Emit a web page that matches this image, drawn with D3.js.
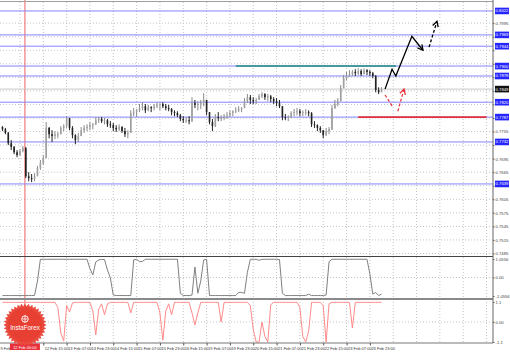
<!DOCTYPE html>
<html>
<head>
<meta charset="utf-8">
<script src="https://cdn.jsdelivr.net/npm/d3@7"></script>
<style>
body { margin: 0; background: #fff; }
svg { display: block; }
</style>
</head>
<body>
<div id="chart"></div>
<script>
// hourly-ish bars (price)
const highs = [.7767,.7763,.7754,.7736,.7723,.7714,.7716,.7723,.7721,.7665,
  .7661,.7663,.7679,.7692,.7703,.7776,.7765,.7758,.7756,.7754,
  .7767,.7771,.7789,.7785,.7767,.7749,.7752,.7765,.7769,.7771,
  .7776,.7774,.7787,.7787,.7787,.7785,.7783,.7778,.7774,.7769,
  .7771,.7767,.7763,.7758,.7802,.7807,.7805,.7816,.7820,.7816,
  .7814,.7811,.7816,.7820,.7818,.7820,.7816,.7814,.7807,.7802,
  .7800,.7794,.7789,.7787,.7789,.7831,.7825,.7822,.7825,.7840,
  .7825,.7798,.7783,.7794,.7798,.7791,.7794,.7798,.7802,.7802,
  .7809,.7811,.7809,.7829,.7838,.7836,.7831,.7829,.7838,.7842,
  .7840,.7838,.7836,.7831,.7829,.7825,.7811,.7794,.7791,.7800,
  .7805,.7807,.7805,.7802,.7805,.7802,.7798,.7778,.7771,.7767,
  .7758,.7763,.7765,.7814,.7825,.7829,.7858,.7880,.7887,.7891,
  .7891,.7893,.7895,.7893,.7895,.7893,.7891,.7887,.7880,.7853,.7853];
const lows = [.7756,.7749,.7725,.7714,.7705,.7698,.7701,.7709,.7652,.7645,
  .7643,.7645,.7656,.7670,.7681,.7696,.7740,.7732,.7738,.7740,
  .7749,.7756,.7763,.7758,.7740,.7727,.7732,.7745,.7752,.7756,
  .7758,.7760,.7769,.7774,.7774,.7771,.7765,.7763,.7756,.7754,
  .7756,.7752,.7743,.7740,.7752,.7789,.7787,.7798,.7802,.7796,
  .7800,.7798,.7802,.7807,.7802,.7807,.7802,.7800,.7791,.7789,
  .7787,.7778,.7774,.7774,.7771,.7776,.7807,.7802,.7805,.7811,
  .7791,.7771,.7756,.7765,.7778,.7778,.7780,.7783,.7787,.7789,
  .7796,.7798,.7798,.7807,.7818,.7816,.7816,.7816,.7825,.7829,
  .7825,.7822,.7820,.7816,.7811,.7807,.7780,.7780,.7778,.7785,
  .7789,.7791,.7789,.7789,.7791,.7789,.7765,.7763,.7756,.7752,
  .7740,.7745,.7749,.7758,.7805,.7811,.7822,.7851,.7869,.7876,
  .7878,.7878,.7880,.7878,.7882,.7880,.7878,.7873,.7842,.7838,.7842];
const closes = [.7760,.7752,.7729,.7721,.7709,.7703,.7712,.7718,.7656,.7652,
  .7650,.7656,.7674,.7685,.7696,.7763,.7749,.7745,.7749,.7749,
  .7763,.7767,.7785,.7763,.7747,.7736,.7745,.7758,.7763,.7765,
  .7769,.7771,.7780,.7783,.7778,.7780,.7771,.7769,.7763,.7760,
  .7765,.7756,.7749,.7752,.7796,.7798,.7802,.7807,.7811,.7802,
  .7809,.7807,.7811,.7814,.7816,.7811,.7807,.7805,.7798,.7796,
  .7791,.7783,.7780,.7780,.7778,.7818,.7814,.7816,.7818,.7825,
  .7798,.7776,.7767,.7787,.7785,.7785,.7789,.7791,.7796,.7800,
  .7802,.7805,.7807,.7822,.7831,.7825,.7822,.7825,.7833,.7838,
  .7831,.7833,.7827,.7822,.7818,.7811,.7787,.7785,.7787,.7796,
  .7798,.7800,.7796,.7798,.7798,.7796,.7771,.7769,.7763,.7758,
  .7747,.7756,.7760,.7807,.7816,.7822,.7851,.7873,.7878,.7882,
  .7887,.7884,.7889,.7882,.7891,.7887,.7884,.7878,.7847,.7842,.7849];
const firstOpen = .7765;

// indicator panes
const osc1 = [-1.03,-1.03,-1.03,-1.03,-1.03,-1.03,-1.03,-1.03,-1.03,-1.03,
  -1.03,-1.02,-0.2,1.04,1.04,1.04,1.04,1.04,1.04,1.04,
  1.04,1.04,1.04,1.04,1.04,1.04,1.04,1.04,1.04,1.04,
  0.5,0.15,0.89,1.0,1.03,1.02,0.43,-0.03,-1.0,-1.03,
  -1.03,-1.03,-1.03,-1.03,-1.03,1.0,1.04,0.9,0.92,1.04,
  1.04,1.04,1.04,1.04,1.04,1.04,1.04,1.04,1.04,1.04,
  1.04,-0.9,-1.03,-1.03,-1.03,-1.0,0.6,-0.9,-0.2,1.0,
  1.04,-1.03,-1.03,-1.03,-1.03,-1.03,-1.03,-1.03,-1.03,-1.03,
  -1.03,-0.85,-0.85,-0.9,0.3,1.04,1.04,1.04,0.98,1.04,
  1.04,1.04,1.04,1.04,1.04,1.02,-0.9,-1.03,-1.03,-1.03,
  -1.03,-1.03,-1.03,-1.03,-1.03,-0.95,-1.03,-1.03,-1.03,-1.03,
  -1.03,-1.0,0.9,1.04,1.04,1.04,1.04,1.04,1.04,1.04,
  1.04,1.04,1.04,1.04,1.04,1.04,0.2,-0.95,-0.85,-1.03,-0.95];
const osc2 = [1.08,1.08,1.08,1.08,1.08,1.08,1.08,1.08,1.08,1.08,
  1.08,1.08,1.08,1.08,1.08,1.08,1.08,1.08,1.08,0.8,
  -0.6,-1.05,0.9,0.55,1.05,1.08,1.08,1.08,1.08,1.08,
  1.08,0.6,-0.71,0.7,1.0,0.4,1.0,1.08,1.08,1.08,
  1.08,1.08,1.08,1.08,0.5,1.08,1.08,1.08,1.08,1.08,
  1.08,1.08,1.08,1.08,0.5,-1.0,0.6,1.0,0.4,1.08,
  1.08,1.08,1.08,1.08,1.08,0.5,-0.16,0.5,1.08,1.08,
  1.08,1.08,1.08,1.08,1.08,0.0,1.08,1.08,1.08,1.08,
  1.08,1.08,1.08,1.08,1.08,0.9,-0.4,-1.1,-1.1,0.0,
  -0.8,-1.1,0.95,1.08,1.08,1.08,1.08,1.08,1.08,1.08,
  1.08,1.08,0.8,-0.8,-1.1,-0.5,1.08,1.08,1.08,1.08,
  0.9,-1.1,1.0,1.08,1.08,1.08,1.08,1.08,1.08,1.08,
  -0.33,1.08,1.08,1.08,1.08,1.08,1.08,1.08,1.08,1.08,1.08];

// axis ticks and labels
const priceTicks = [0.7485,0.7515,0.7545,0.7575,0.7605,0.7635,0.7665,0.7695,0.7725,
  0.7755,0.7785,0.7815,0.7845,0.7875,0.7905,0.7935,0.7965,0.7995];
const osc1Ticks = [-1.0556, 0, 1.0556];
const osc2Ticks = [-1.1, 0, 1.1];
const timeBars = [-1.2,14,22,30,38,46,54,62,70,78,86,94,102,110,118,126];
const timeLabels = ["9 Feb 2018","12 Feb 15:00","13 Feb 07:00","13 Feb 23:00","14 Feb 15:00",
  "15 Feb 07:00","15 Feb 23:00","16 Feb 15:00","19 Feb 07:00","19 Feb 23:00",
  "20 Feb 15:00","21 Feb 07:00","21 Feb 23:00","22 Feb 15:00","23 Feb 07:00","23 Feb 23:00"];
const markerBar = 7.7;
const markerLabel = "12 Feb 00:00";

// levels drawn on the chart
const blueLevels = [0.8022,0.7969,0.7944,0.7900,0.7878,0.7820,0.7787,0.7732,0.7639];
const tealLevel = {price: 0.7900, from: 80, to: 135};
const redLevel = {price: 0.7787, from: 122, to: 166};

// forecast arrows (bar, price)
const bullPath = [[131.2,.7849],[133.6,.7893],[134.9,.7878],[140.4,.7966],[144.2,.7935]];
const bullDashed = [[146.3,.7942],[149.0,.7999]];
const bearDashedA = [[131.2,.7836],[133.9,.7809]];
const bearDashedB = [[135.6,.7800],[137.7,.7849]];

const W = 510, H = 352, plotRight = 493;
const svg = d3.select("#chart").append("svg")
  .attr("width", W).attr("height", H)
  .style("font-family", "'Liberation Sans', Arial, sans-serif");

const x = d3.scaleLinear().domain([0, 130]).range([2.47, 381.55]);
const y = d3.scaleLinear().domain([0.7485, 0.7995]).range([253.5, 23.15]);
const y1 = d3.scaleLinear().domain([-1.0556, 1.0556]).range([296, 259]);
const y2 = d3.scaleLinear().domain([-1.1, 1.1]).range([342, 302]);

const defs = svg.append("defs");
[["clipMain", 2, 254], ["clip1", 257, 41], ["clip2", 300, 43]].forEach(function(c) {
  defs.append("clipPath").attr("id", c[0]).append("rect")
    .attr("x", 0).attr("y", c[1]).attr("width", plotRight).attr("height", c[2]);
});

// grid
const grid = svg.append("g").attr("stroke", "#c4c4c4").attr("stroke-dasharray", "1,2");
d3.range(6, 167, 8).forEach(function(b) {
  grid.append("line").attr("x1", x(b)).attr("x2", x(b)).attr("y1", 2).attr("y2", 343);
});
priceTicks.forEach(function(p) {
  grid.append("line").attr("x1", 0).attr("x2", plotRight).attr("y1", y(p)).attr("y2", y(p));
});
grid.append("line").attr("x1", 0).attr("x2", plotRight).attr("y1", y1(0)).attr("y2", y1(0));
grid.append("line").attr("x1", 0).attr("x2", plotRight).attr("y1", y2(0)).attr("y2", y2(0));

// marker vertical line
svg.append("line").attr("x1", x(markerBar)).attr("x2", x(markerBar))
  .attr("y1", 0).attr("y2", 343).attr("stroke", "#f06060").attr("stroke-width", 1);

const main = svg.append("g").attr("clip-path", "url(#clipMain)");

// levels
main.selectAll(".lvl").data(blueLevels).enter().append("line")
  .attr("x1", 0).attr("x2", plotRight)
  .attr("y1", d => y(d)).attr("y2", d => y(d))
  .attr("stroke", "#8585ff").attr("stroke-width", 1);
main.append("line").attr("x1", 0).attr("x2", plotRight)
  .attr("y1", y(closes[closes.length - 1])).attr("y2", y(closes[closes.length - 1]))
  .attr("stroke", "#c8c8c8");
main.append("line").attr("x1", x(tealLevel.from)).attr("x2", x(tealLevel.to))
  .attr("y1", y(tealLevel.price)).attr("y2", y(tealLevel.price))
  .attr("stroke", "#1e8c80").attr("stroke-width", 1.6);
main.append("line").attr("x1", x(redLevel.from)).attr("x2", x(redLevel.to))
  .attr("y1", y(redLevel.price)).attr("y2", y(redLevel.price))
  .attr("stroke", "#e0303a").attr("stroke-width", 1.6);

// bars
const bars = closes.map(function(c, i) {
  let o = i ? closes[i - 1] : firstOpen;
  return {i: i, o: o, c: c, h: Math.max(highs[i], o, c), l: Math.min(lows[i], o, c)};
});
const bar = main.selectAll(".bar").data(bars).enter().append("g");
bar.append("line")
  .attr("x1", d => x(d.i)).attr("x2", d => x(d.i))
  .attr("y1", d => y(d.h)).attr("y2", d => y(d.l))
  .attr("stroke", d => d.c >= d.o ? "#8a8a8a" : "#222").attr("stroke-width", 1);
bar.append("rect")
  .attr("x", d => x(d.i) - 0.8).attr("width", 1.6)
  .attr("y", d => y(Math.max(d.o, d.c)))
  .attr("height", d => Math.max(1, Math.abs(y(d.o) - y(d.c))))
  .attr("fill", d => d.c >= d.o ? "#a0a0a0" : "#222");

// forecast arrows
const line = d3.line().x(d => x(d[0])).y(d => y(d[1]));
function arrowHead(pts, color, len) {
  let a = pts[pts.length - 2], b = pts[pts.length - 1];
  let ax = x(a[0]), ay = y(a[1]), bx = x(b[0]), by = y(b[1]);
  let ang = Math.atan2(by - ay, bx - ax);
  let p1 = [bx - len * Math.cos(ang - 0.5), by - len * Math.sin(ang - 0.5)];
  let p2 = [bx - len * Math.cos(ang + 0.5), by - len * Math.sin(ang + 0.5)];
  svg.append("path").attr("d", "M" + p1 + "L" + bx + "," + by + "L" + p2)
    .attr("fill", "none").attr("stroke", color).attr("stroke-width", 1.3);
}
svg.append("path").datum(bullPath).attr("d", line)
  .attr("fill", "none").attr("stroke", "#000").attr("stroke-width", 1.3);
arrowHead(bullPath, "#000", 6);
svg.append("path").datum(bullDashed).attr("d", line)
  .attr("fill", "none").attr("stroke", "#000").attr("stroke-width", 1.3)
  .attr("stroke-dasharray", "3,2");
arrowHead(bullDashed, "#000", 6);
[bearDashedA, bearDashedB].forEach(function(p) {
  svg.append("path").datum(p).attr("d", line)
    .attr("fill", "none").attr("stroke", "#e8303a").attr("stroke-width", 1.2)
    .attr("stroke-dasharray", "3,2");
});
arrowHead(bearDashedB, "#e8303a", 6);

// indicator lines
svg.append("path").datum(osc1).attr("clip-path", "url(#clip1)")
  .attr("d", d3.line().x((d, i) => x(i)).y(d => y1(d)))
  .attr("fill", "none").attr("stroke", "#808080").attr("stroke-width", 1);
svg.append("path").datum(osc2).attr("clip-path", "url(#clip2)")
  .attr("d", d3.line().x((d, i) => x(i)).y(d => y2(d)))
  .attr("fill", "none").attr("stroke", "#ff8a8a").attr("stroke-width", 1);

// frame
svg.append("line").attr("x1", 0).attr("x2", plotRight).attr("y1", 1.5).attr("y2", 1.5).attr("stroke", "#a0a0a0");
svg.append("line").attr("x1", 0).attr("x2", plotRight).attr("y1", 256.5).attr("y2", 256.5).attr("stroke", "#444").attr("stroke-width", 1.2);
svg.append("line").attr("x1", 0).attr("x2", plotRight).attr("y1", 299).attr("y2", 299).attr("stroke", "#8a8a8a").attr("stroke-width", 2);
svg.append("line").attr("x1", 0).attr("x2", plotRight).attr("y1", 343).attr("y2", 343).attr("stroke", "#777");
svg.append("line").attr("x1", plotRight).attr("x2", plotRight).attr("y1", 0).attr("y2", 343).attr("stroke", "#666");

// right axes
const last = closes[closes.length - 1];
const tagged = blueLevels.concat([last]);
function styleAxis(g) {
  g.select(".domain").remove();
  g.selectAll(".tick line").attr("stroke", "#666");
  g.selectAll("text").attr("fill", "#444").style("font-size", "4.2px");
}
svg.append("g").attr("transform", "translate(" + plotRight + ",0)")
  .call(d3.axisRight(y).tickValues(priceTicks).tickSize(1.5).tickPadding(1).tickFormat(d3.format(".4f")))
  .call(styleAxis)
  .selectAll(".tick text")
  .style("display", d => tagged.some(v => Math.abs(y(v) - y(d)) < 6.8) ? "none" : null);
svg.append("g").attr("transform", "translate(" + plotRight + ",0)")
  .call(d3.axisRight(y1).tickValues(osc1Ticks).tickSize(1.5).tickPadding(1)
    .tickFormat(d => d === 0 ? "0.00" : d.toFixed(4)))
  .call(styleAxis);
svg.append("g").attr("transform", "translate(" + plotRight + ",0)")
  .call(d3.axisRight(y2).tickValues(osc2Ticks).tickSize(1.5).tickPadding(1)
    .tickFormat(d => d === 0 ? "0.00" : d.toFixed(1)))
  .call(styleAxis);

// level price tags
const tags = svg.selectAll(".tag").data(blueLevels).enter().append("g");
tags.append("rect").attr("x", plotRight + 2).attr("y", d => y(d) - 3.3)
  .attr("width", 14).attr("height", 6.6).attr("fill", "#2525ff");
tags.append("text").attr("x", plotRight + 9).attr("y", d => y(d) + 1.5)
  .attr("text-anchor", "middle").attr("fill", "#fff").style("font-size", "4.2px")
  .text(d => d3.format(".4f")(d));
svg.append("rect").attr("x", plotRight + 2).attr("y", y(last) - 3.3)
  .attr("width", 14).attr("height", 6.6).attr("fill", "#111");
svg.append("text").attr("x", plotRight + 9).attr("y", y(last) + 1.5)
  .attr("text-anchor", "middle").attr("fill", "#fff").style("font-size", "4.2px")
  .text(d3.format(".4f")(last));

// time axis
const xa = svg.append("g").attr("transform", "translate(0,343)")
  .call(d3.axisBottom(x).tickValues(timeBars).tickSize(2.5).tickPadding(1)
    .tickFormat((d, i) => timeLabels[i]));
xa.select(".domain").remove();
xa.selectAll(".tick line").attr("stroke", "#555");
xa.selectAll("text").attr("text-anchor", "start").attr("x", 1).attr("dy", "0.9em")
  .attr("fill", "#333").style("font-size", "4px");
svg.append("rect").attr("x", x(markerBar) - 15).attr("y", 343.5)
  .attr("width", 30).attr("height", 6.5).attr("fill", "#e8303a");
svg.append("text").attr("x", x(markerBar)).attr("y", 348.6)
  .attr("text-anchor", "middle").attr("fill", "#fff").style("font-size", "4px")
  .text(markerLabel);

// logo badge
const logo = svg.append("g").attr("transform", "translate(25,325)");
const star = d3.range(72).map(function(k) {
  let r = k % 2 ? 18.8 : 21.5, a = k * Math.PI / 36;
  return [r * Math.sin(a), -r * Math.cos(a)];
});
logo.append("path").attr("d", "M" + star.join("L") + "Z").attr("fill", "#ea4a3d");
logo.append("circle").attr("r", 17).attr("fill", "#e83f33");
logo.append("circle").attr("cy", -6).attr("r", 3.2).attr("fill", "none").attr("stroke", "#fff").attr("stroke-width", 1);
logo.append("path").attr("d", "M0,-9.5V-2.5M-2.4,-6H2.4").attr("stroke", "#fff").attr("stroke-width", 0.8);
logo.append("text").attr("y", 5).attr("text-anchor", "middle").attr("fill", "#fff")
  .style("font-size", "6.3px").text("InstaForex");
</script>
</body>
</html>
